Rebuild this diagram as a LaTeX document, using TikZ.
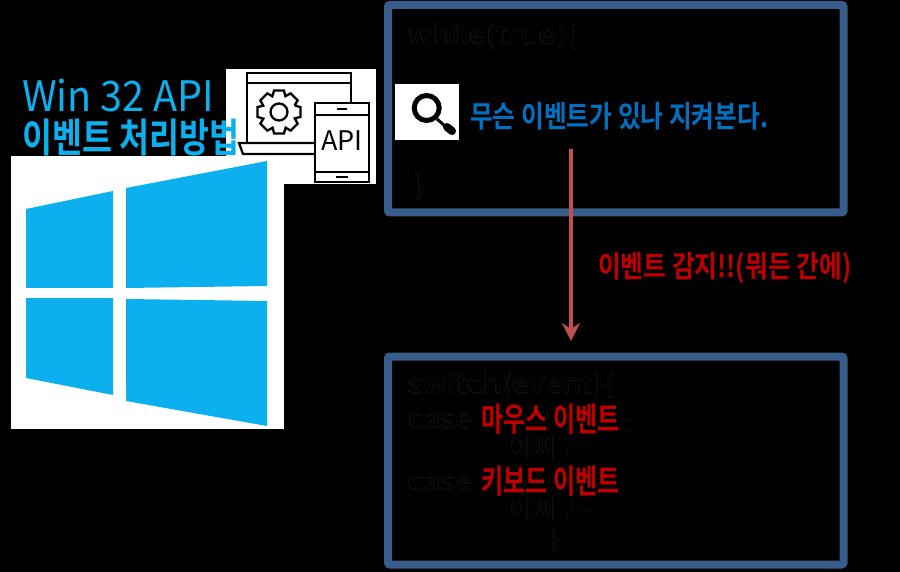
\documentclass[tikz,border=0pt]{standalone}
\usepackage{fontspec}
\usepackage{contour}
\setmainfont{Noto Sans CJK KR}[BoldFont={Noto Sans CJK KR Bold}]
\usetikzlibrary{positioning,arrows.meta}
\contourlength{0.25pt}
\contournumber{16}
\definecolor{boxblue}{HTML}{385D8A}
\definecolor{winblue}{HTML}{0DB0EF}
\definecolor{eventred}{HTML}{C00000}
\definecolor{arrowred}{HTML}{C0504D}
\definecolor{seekblue}{HTML}{0070C0}
\definecolor{faint}{HTML}{121212}
\newcommand{\ghost}[1]{\contour{faint}{\textcolor{black}{#1}}}
\tikzset{
    codebox/.style={draw=boxblue, line width=8pt, rounded corners=2pt},
    pane/.style={fill=winblue},
    icon/.style={draw=black, line width=2.3pt},
    ghostcode/.style={anchor=west, inner sep=0pt, font=\fontsize{26}{26}\selectfont, transform shape, xscale=1.19},
    ghosthangul/.style={ghostcode, xscale=0.8},
    boldtext/.style={anchor=west, inner sep=0pt, font=\bfseries\fontsize{30}{30}\selectfont, transform shape, xscale=0.825},
    caselabel/.style={boldtext, text=eventred, font=\bfseries\fontsize{33}{33}\selectfont, xscale=0.885}
}
\begin{document}
\begin{tikzpicture}[x=1pt, y=-1pt]
        \fill[black] (0,0) rectangle (900,572);
        \useasboundingbox (0,0) rectangle (900,572);

        % right side boxes
        \draw[codebox] (388,5) rectangle (843.5,212.5);
        \draw[codebox] (388,356.5) rectangle (843.5,564.5);

        % upper box
        \node[ghostcode] (while) at (408,36) {\ghost{while(true)\{}};
        \node[ghostcode] (closeloop) at (415,187) {\ghost{\}}};
        \fill[white] (395,84.5) rectangle (459,140.5);
        \draw[black, line width=5pt] (426.7,108) circle (12.5);
        \draw[black, line width=3pt] (437,119) -- (445,126);
        \draw[black, line width=8pt, line cap=round] (447,127) -- (452,131);
        \node[boldtext, text=seekblue] (seek) at (470,116) {무슨 이벤트가 있나 지켜본다.};

        % lower box
        \node[ghostcode] (switch) at (408,385) {\ghost{switch(event)\{}};
        \node[ghostcode] (case1) at (408,421) {\ghost{case}};
        \node[caselabel] (mouse) at (481,419) {마우스 이벤트};
        \node[ghostcode] (colon) at (624,425) {\ghost{:}};
        \node[ghosthangul] (blah1) at (510,448) {\ghost{이쩌구\textasciitilde}};
        \node[ghostcode] (case2) at (408,483) {\ghost{case}};
        \node[caselabel] (keyboard) at (481,481) {키보드 이벤트};
        \node[ghosthangul] (blah2) at (510,510) {\ghost{이쩌구\textasciitilde}};
        \node[ghostcode] (closeswitch) at (550,540) {\ghost{\}}};

        % arrow between the boxes
        \coordinate (seekend) at (571,149);
        \coordinate (caseend) at (571,341);
        \draw[-{Stealth[length=18pt, width=18pt, inset=6pt]}, arrowred, line width=3.7pt] (seekend) -- (caseend);
        \node[boldtext, text=eventred] (detect) at (598,268) {이벤트 감지!!(뭐든 간에)};

        % api icon
        \fill[white] (226,69) rectangle (376,184);
        \draw[icon] (247,143) -- (247,73) -- (351,73) -- (351,103);
        \draw[icon] (247,83) -- (351,83);
        \draw[icon] (314,143) -- (239,143) -- (243,154) -- (314,154);
        \draw[icon] (279,112) circle (8.5);
        \draw[icon, shift={(279,112)}] (-22:17)
            \foreach \a in {0,45,...,315} { -- (\a-13:22) -- (\a+13:22) -- (\a+22:17) };
        \draw[icon] (315,103) rectangle (369,182);
        \draw[icon] (315,115) -- (369,115);
        \draw[icon] (315,172) -- (369,172);
        \draw[icon] (337,109) -- (347,109);
        \draw[icon] (336,177) -- (348,177);
        \node[inner sep=0pt, font=\fontsize{27}{27}\selectfont] (api) at (342,141) {API};

        % windows logo
        \fill[white] (11,156) rectangle (284,429);
        \fill[pane] (26,209) -- (113,191) -- (113,288) -- (26,288) -- cycle;
        \fill[pane] (126,188) -- (267,161) -- (267,286) -- (126,288) -- cycle;
        \fill[pane] (26,298) -- (113,298) -- (113,395) -- (26,378) -- cycle;
        \fill[pane] (126,299) -- (267,301) -- (267,426) -- (126,401) -- cycle;

        % title
        \node[boldtext, text=winblue, font=\fontsize{42}{42}\selectfont, xscale=1.14] (title) at (22,95) {Win 32 API};
        \node[boldtext, text=winblue, font=\bfseries\fontsize{40}{40}\selectfont, xscale=0.988] (subtitle) at (22,138) {이벤트 처리방법};
    \end{tikzpicture}
\end{document}
